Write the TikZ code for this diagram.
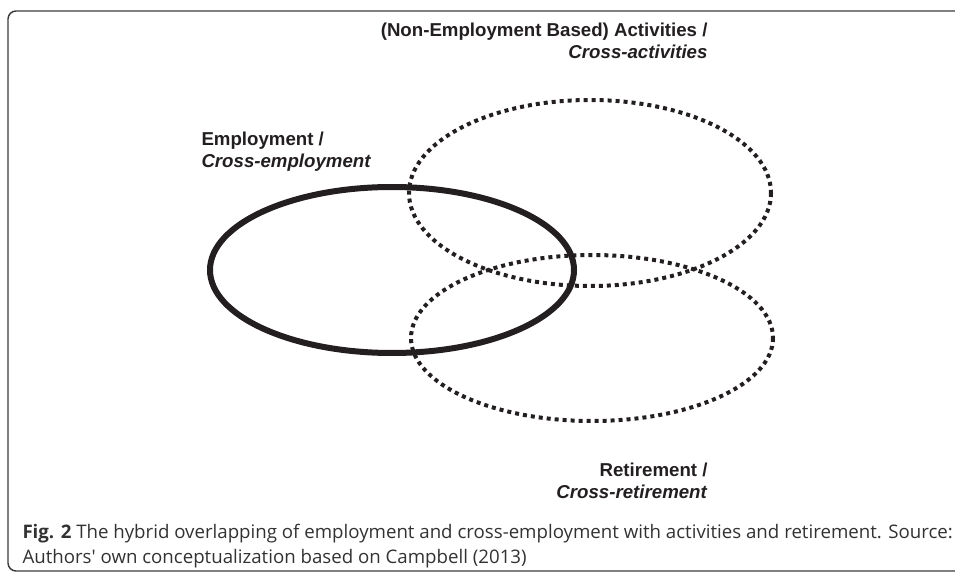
\documentclass[tikz,border=0pt]{standalone}
\usepackage{fontspec}
\setmainfont{Liberation Sans}
\newfontfamily\capfont{Open Sans}

\tikzset{every picture/.style={line width=0.75pt}}
\tikzset{
  dotline/.style={line width=3pt, dash pattern=on 3pt off 3pt, color={rgb, 255:red, 35; green, 31; blue, 32 }},
  lbl/.style={inner sep=0pt, font=\fontsize{14}{16.5}\selectfont\bfseries, color={rgb, 255:red, 35; green, 31; blue, 32 }}
}

\begin{document}
\begin{tikzpicture}[x=0.75pt,y=0.75pt,yscale=-1,xscale=1]
    \useasboundingbox (0,0) rectangle (955,573);
    
    %Shape: Frame [open on the right]
    \draw  [color={rgb, 255:red, 60; green, 60; blue, 60 }  ,line width=1.1pt ,rounded corners=6pt] (962,11) -- (8,11) -- (8,571) -- (962,571) ;
    
    %Shape: Ellipse [id:employment] 
    \draw  [color={rgb, 255:red, 35; green, 31; blue, 32 }  ,line width=4.5pt ] (392,270) ellipse (182 and 83) ;
    %Shape: Ellipse [id:activities] 
    \draw  [dotline] (590,193) ellipse (181 and 93) ;
    %Shape: Ellipse [id:retirement] 
    \draw  [dotline] (592,338) ellipse (181 and 83) ;
    
    % Text Node
    \draw (201,131) node (emplbl) [anchor=north west][lbl, align=left]  {Employment /\\\textit{Cross-employment}};
    % Text Node
    \draw (708,22) node (actlbl) [anchor=north east][lbl, align=right]  {(Non-Employment Based) Activities /\\\textit{Cross-activities}};
    % Text Node
    \draw (708,462) node (retlbl) [anchor=north east][lbl, align=right]  {Retirement /\\\textit{Cross-retirement}};
    
    % Text Node [caption]
    \draw (22,524) node (caption) [anchor=north west][inner sep=0pt, align=left, font=\capfont\fontsize{14}{18.75}\selectfont, color={rgb, 255:red, 50; green, 50; blue, 50 }]  {\textbf{Fig. 2} The hybrid overlapping of employment and cross-employment with activities and retirement. Source:\\Authors' own conceptualization based on Campbell (2013)};
    
\end{tikzpicture}
\end{document}
